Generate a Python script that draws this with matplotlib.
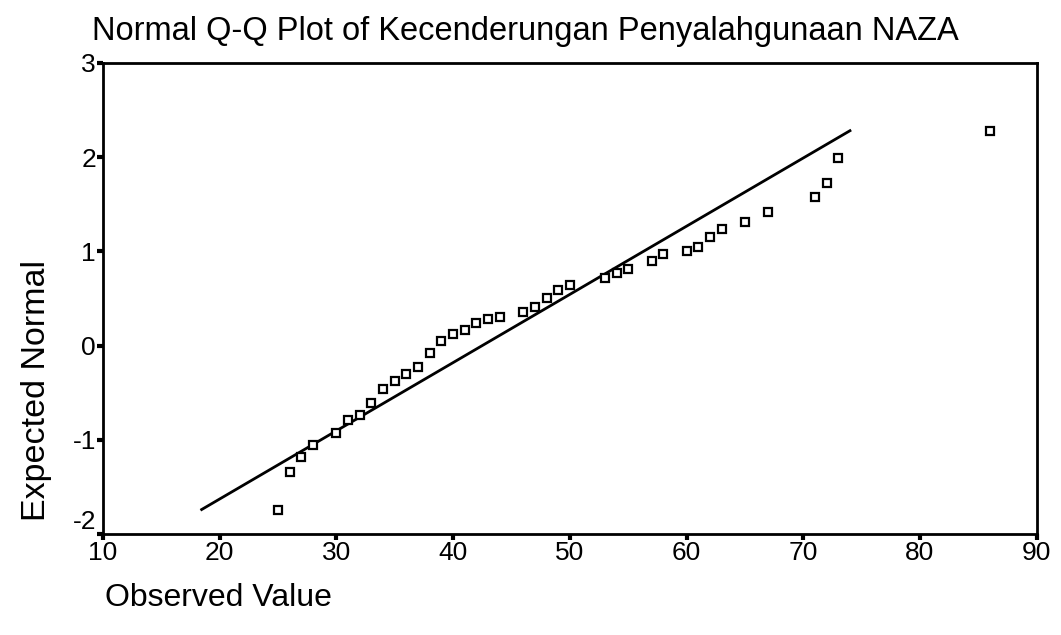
import numpy as np
import matplotlib.pyplot as plt

plt.rcParams['font.family'] = ['Liberation Sans', 'DejaVu Sans']
plt.rcParams['axes.unicode_minus'] = False

# observed values and their expected normal scores
observed = [25, 26, 27, 28, 30, 31, 32, 33, 34, 35, 36, 37, 38, 39, 40,
            41, 42, 43, 44, 46, 47, 48, 49, 50, 53, 54, 55, 57, 58, 60,
            61, 62, 63, 65, 67, 71, 72, 73, 86]
expected = [-1.74, -1.34, -1.18, -1.055, -0.925, -0.79, -0.74, -0.61, -0.46,
            -0.38, -0.30, -0.23, -0.075, 0.05, 0.12, 0.17, 0.24, 0.285, 0.307,
            0.357, 0.413, 0.51, 0.59, 0.64, 0.72, 0.77, 0.816, 0.90, 0.975,
            1.00, 1.05, 1.156, 1.235, 1.315, 1.418, 1.577, 1.73, 1.99, 2.28]

# reference line
line_x = [18.45, 74.0]
line_y = [-1.74, 2.28]

xticks = [10, 20, 30, 40, 50, 60, 70, 80, 90]
yticks = [-2, -1, 0, 1, 2, 3]

fig = plt.figure(figsize=(10.61, 6.35), dpi=100)
ax = fig.add_axes([0.0971, 0.159, 0.880, 0.742])

ax.plot(line_x, line_y, "k-", lw=2)
ax.plot(observed, expected, "s", ms=5.5, mfc="white", mec="black", mew=1.6)

ax.set_xlim(10, 90)
ax.set_ylim(-2, 3)
ax.set_xticks(xticks)
ax.set_yticks(yticks)
ax.tick_params(direction="out", length=4, width=3, labelsize=19, pad=1)
for s in ax.spines.values():
    s.set_linewidth(2)
# bottom y label sits a bit above its tick, clear of the "10"
ax.get_yticklabels()[0].set_va("bottom")

fig.text(0.087, 0.951, "Normal Q-Q Plot of Kecenderungan Penyalahgunaan NAZA",
         fontsize=23.5, ha="left", va="center")
fig.text(0.099, 0.058, "Observed Value", fontsize=23, ha="left", va="center")
fig.text(0.034, 0.385, "Expected Normal", fontsize=24.5, rotation=90,
         ha="center", va="center")

plt.savefig("out.png", dpi=100)
